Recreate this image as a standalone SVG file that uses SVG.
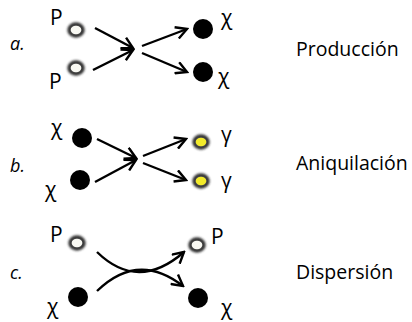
<svg xmlns="http://www.w3.org/2000/svg" width="412" height="322" viewBox="0 0 412 322">
<style>
.lbl{font-family:"Open Sans","Liberation Sans",sans-serif;font-size:19.5px;fill:#000}
.sym{font-family:"Open Sans","Liberation Sans",sans-serif;font-size:21px;fill:#000}
.it{font-family:"Open Sans","Liberation Sans",sans-serif;font-size:18px;font-style:italic;fill:#000}
.arr{fill:none;stroke:#000;stroke-width:2.4;marker-end:url(#ah)}
.ring{fill:none;stroke:#333;stroke-width:4.5;filter:url(#blur)}
.wht{fill:#f8f8f2}
.yel{fill:#f2ea2a}
.blk{fill:#000}
</style>
<defs>
<marker id="ah" viewBox="0 0 14 14" refX="12" refY="7" markerWidth="14" markerHeight="14" markerUnits="userSpaceOnUse" orient="auto">
<path d="M1,1 L12,7 L1,13" fill="none" stroke="#000" stroke-width="2.4"/>
</marker>
<filter id="blur" x="-50%" y="-50%" width="200%" height="200%"><feGaussianBlur stdDeviation="1.3"/></filter>
</defs>
<g id="labels">
<text class="it" x="10" y="50">a.</text>
<text class="it" x="10" y="172">b.</text>
<text class="it" x="10" y="279">c.</text>
<text class="lbl" x="296" y="56">Producción</text>
<text class="lbl" x="296" y="170">Aniquilación</text>
<text class="lbl" x="296" y="279">Dispersión</text>
</g>
<g id="connectors">
<line class="arr" x1="95" y1="28" x2="133" y2="48"/>
<line class="arr" x1="93" y1="70" x2="133" y2="50"/>
<line class="arr" x1="142" y1="46" x2="187" y2="29"/>
<line class="arr" x1="142" y1="53" x2="187" y2="72"/>
<line class="arr" x1="97" y1="139" x2="136" y2="158"/>
<line class="arr" x1="95" y1="182" x2="136" y2="160"/>
<line class="arr" x1="143" y1="156" x2="186" y2="139"/>
<line class="arr" x1="143" y1="163" x2="186" y2="180"/>
<path class="arr" d="M97,252 Q138,292 184,252"/>
<path class="arr" d="M97,291 Q138,251 183,286"/>
</g>
<g id="a-p1"><ellipse class="ring" cx="76" cy="30" rx="6.5" ry="5.5"/><ellipse class="wht" cx="76" cy="30" rx="5.3" ry="4.2"/><text class="sym" x="50" y="25">P</text></g>
<g id="a-p2"><ellipse class="ring" cx="76" cy="68" rx="6.5" ry="5.5"/><ellipse class="wht" cx="76" cy="68" rx="5.3" ry="4.2"/><text class="sym" x="49" y="89">P</text></g>
<g id="a-x1"><circle class="blk" cx="203" cy="29" r="10"/><text class="sym" x="221" y="25">χ</text></g>
<g id="a-x2"><circle class="blk" cx="203" cy="72" r="10"/><text class="sym" x="218" y="84">χ</text></g>
<g id="b-x1"><circle class="blk" cx="82" cy="138" r="10"/><text class="sym" x="51" y="135">χ</text></g>
<g id="b-x2"><circle class="blk" cx="80" cy="180" r="10"/><text class="sym" x="45" y="197">χ</text></g>
<g id="b-g1"><ellipse class="ring" cx="201" cy="142" rx="6.5" ry="5.5"/><ellipse class="yel" cx="201" cy="142" rx="5.3" ry="4.2"/><text class="sym" x="221" y="142">γ</text></g>
<g id="b-g2"><ellipse class="ring" cx="201" cy="181" rx="6.5" ry="5.5"/><ellipse class="yel" cx="201" cy="181" rx="5.3" ry="4.2"/><text class="sym" x="221" y="188">γ</text></g>
<g id="c-p1"><ellipse class="ring" cx="77" cy="243" rx="6.5" ry="5.5"/><ellipse class="wht" cx="77" cy="243" rx="5.3" ry="4.2"/><text class="sym" x="50" y="242">P</text></g>
<g id="c-x1"><circle class="blk" cx="78" cy="297" r="10"/><text class="sym" x="47" y="314">χ</text></g>
<g id="c-p2"><ellipse class="ring" cx="197" cy="245" rx="6.5" ry="5.5"/><ellipse class="wht" cx="197" cy="245" rx="5.3" ry="4.2"/><text class="sym" x="211" y="244">P</text></g>
<g id="c-x2"><circle class="blk" cx="198" cy="298" r="10"/><text class="sym" x="221" y="315">χ</text></g>
</svg>
